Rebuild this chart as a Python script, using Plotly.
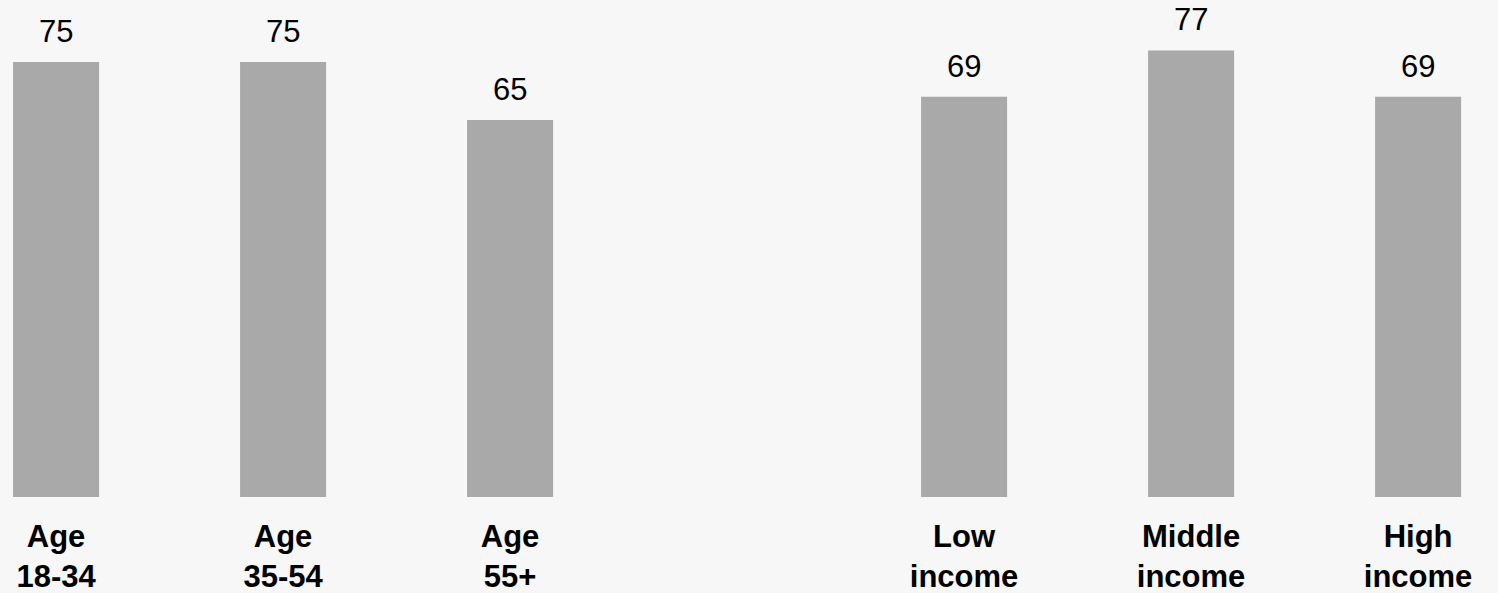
import plotly.graph_objects as go

# Share of respondents by age group and household income
categories = ["Age<br>18-34", "Age<br>35-54", "Age<br>55+", " ",
              "Low<br>income", "Middle<br>income", "High<br>income"]
values = [75, 75, 65, None, 69, 77, 69]
value_labels = ["75", "75", "65", "", "69", "77", "69"]

BG = "#f7f7f7"
BAR = "#a9a9a9"
FONT = "Liberation Sans, Arial, sans-serif"

fig = go.Figure(
    go.Bar(
        x=categories,
        y=values,
        marker=dict(color=BAR, line=dict(width=0)),
        hoverinfo="skip",
    )
)

# value labels above each bar
for cat, val, lab in zip(categories, values, value_labels):
    if val is None:
        continue
    fig.add_annotation(
        x=cat, y=val, text=lab, showarrow=False,
        xanchor="center", yanchor="bottom", yshift=11,
        font=dict(family=FONT, size=31, color="#000000"),
    )

fig.update_layout(
    width=1498,
    height=593,
    margin=dict(l=0, r=0, t=0, b=96),
    paper_bgcolor=BG,
    plot_bgcolor=BG,
    bargap=0.621,
    showlegend=False,
    font=dict(family=FONT, color="#000000"),
)
fig.update_xaxes(
    type="category",
    categoryorder="array",
    categoryarray=categories,
    range=[-0.247, 6.352],
    showgrid=False,
    showline=False,
    zeroline=False,
    ticks="",
    tickfont=dict(family=FONT, size=31, color="#000000", weight="bold"),
    ticklabelstandoff=18,
)
fig.update_yaxes(
    range=[0, 85.7],
    visible=False,
    showgrid=False,
    zeroline=False,
)

fig.write_html("out.html")
